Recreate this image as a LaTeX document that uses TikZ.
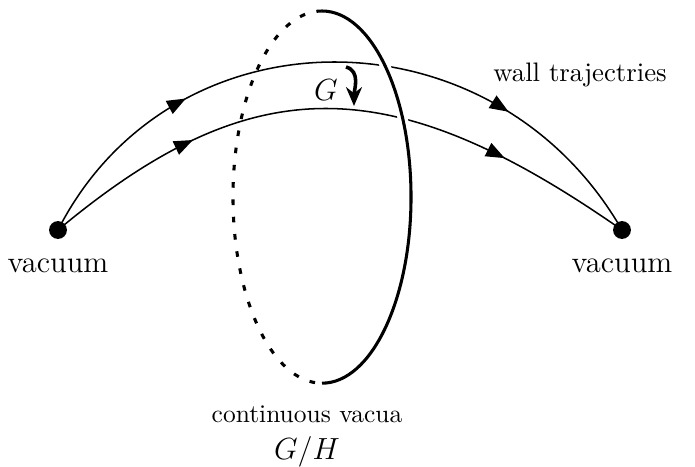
\documentclass[tikz,border=0pt]{standalone}
\usepackage{tikz}
\usetikzlibrary{arrows.meta, positioning, decorations.markings}

\begin{document}
\begin{tikzpicture}[
  x=0.0138cm, y=0.0138cm,
  font=\normalsize,
  vac/.style={circle, fill=black, inner sep=0pt, minimum size=7pt},
  vaclabel/.style={font=\large, inner sep=1pt},
  wall/.style 2 args={
    line width=0.6pt,
    postaction={decorate},
    decoration={markings,
      mark=at position #1 with {\arrow{Triangle[length=2.6mm,width=2mm]}},
      mark=at position #2 with {\arrow{Triangle[length=2.6mm,width=2mm]}}}
  },
  front/.style={line width=1.2pt, preaction={draw=white, line width=4pt}},
  back/.style={line width=1.2pt, dash pattern=on 2.2pt off 4.6pt},
  orbit/.style={-{Stealth[length=2.6mm,width=2.2mm]}, line width=1.4pt}
]
\useasboundingbox (0,0) rectangle (695,466);

% the two vacua
\node[vac] (vl) at (58,236) {};
\node[vac] (vr) at (622,236) {};
\node[vaclabel, below=2.2mm of vl] (vltext) {vacuum};
\node[vaclabel, below=2.2mm of vr] (vrtext) {vacuum};

% wall trajectories
\draw[wall={0.27}{0.76}] (vl.center) .. controls (172,460) and (493,460) .. (vr.center);
\draw[wall={0.26}{0.78}] (vl.center) .. controls (252,398) and (390,398) .. (vr.center);
\node[font=\fontsize{10.5}{12}\selectfont] (walltext) at (580,391) {wall trajectries};

% circle of continuous vacua
\coordinate (top) at (322,455);
\draw[back] (top) arc[start angle=90, end angle=270, x radius=1.228cm, y radius=2.567cm];
\draw[front] (top) arc[start angle=90, end angle=-90, x radius=1.228cm, y radius=2.567cm];

% action of G
\coordinate (gs) at (346,399);
\coordinate (ge) at (354,360);
\draw[orbit] (gs) to[out=-15, in=90] (ge);
\node[font=\large] (glabel) at (326,376) {$G$};

\node (cvtext) at (307,52) {continuous vacua};
\node[font=\large, below=-0.5mm of cvtext] (ghtext) {$G/H$};

\end{tikzpicture}
\end{document}
